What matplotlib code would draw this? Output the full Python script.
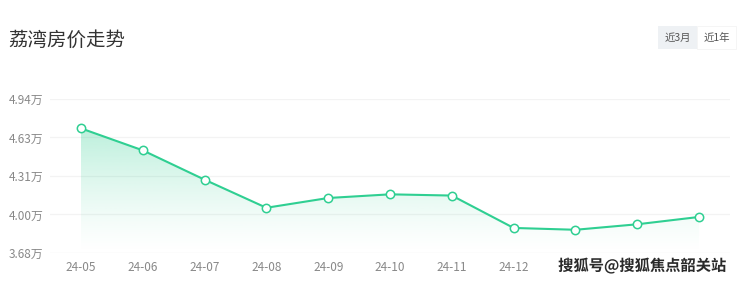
import matplotlib
matplotlib.use("Agg")
import matplotlib.pyplot as plt
import matplotlib.patheffects as pe
from matplotlib.patches import Rectangle, Polygon
import numpy as np

plt.rcParams['font.family'] = ['Noto Sans CJK SC', 'DejaVu Sans']

months = ["24-05", "24-06", "24-07", "24-08", "24-09", "24-10",
          "24-11", "24-12", "25-01", "25-02", "25-03"]
prices = [4.70, 4.52, 4.28, 4.05, 4.13, 4.16, 4.15, 3.885, 3.87, 3.915, 3.975]
ytick_vals = [3.68, 3.995, 4.31, 4.625, 4.94]
ytick_labels = ["3.68万", "4.00万", "4.31万", "4.63万", "4.94万"]
title = "荔湾房价走势"
buttons = ["近3月", "近1年"]
watermark = "搜狐号@搜狐焦点韶关站"
n_hidden = 3  # last x labels covered by the watermark in the reference

W, H = 740, 284
fig = plt.figure(figsize=(W / 100, H / 100), dpi=100)
fig.patch.set_facecolor("white")

x0, x1 = 50, 730
ytop, ybot = 99, 253
ax = fig.add_axes([x0 / W, 1 - ybot / H, (x1 - x0) / W, (ybot - ytop) / H])
ax.set_xlim(-0.5, len(months) - 0.5)
ax.set_ylim(ytick_vals[0], ytick_vals[-1])
for s in ax.spines.values():
    s.set_visible(False)

for v in ytick_vals:
    ax.axhline(v, color="#ececec" if v == ytick_vals[0] else "#f3f3f3", lw=0.9, zorder=0)

ax.set_yticks(ytick_vals)
ax.set_yticklabels(ytick_labels)
ax.set_xticks(range(len(months)))
ax.set_xticklabels(months[:len(months) - n_hidden] + [""] * n_hidden)
ax.tick_params(axis="both", length=0, labelsize=8.5, colors="#888888")
ax.tick_params(axis="y", pad=5)
ax.tick_params(axis="x", pad=6)

xs = np.arange(len(prices))
green = "#2fcf92"

# gradient fill under line
ymax = max(prices)
base = ytick_vals[0]
grad = np.linspace(0, 1, 256).reshape(-1, 1)
rgba = np.zeros((256, 1, 4))
rgba[..., 0] = 0x2f / 255
rgba[..., 1] = 0xcf / 255
rgba[..., 2] = 0x92 / 255
rgba[..., 3] = 0.32 * grad ** 1.3
im = ax.imshow(rgba, extent=[xs[0], xs[-1], base, ymax], origin="lower",
               aspect="auto", zorder=1, interpolation="bilinear")
verts = [(xs[0], base)] + list(zip(xs, prices)) + [(xs[-1], base)]
poly = Polygon(verts, closed=True, transform=ax.transData, facecolor="none", edgecolor="none")
ax.add_patch(poly)
im.set_clip_path(poly)

ax.plot(xs, prices, color=green, lw=1.5, zorder=3, clip_on=False)
ax.plot(xs, prices, "o", ms=6, mfc="white", mec=green, mew=1.1, zorder=4, clip_on=False)

# title
fig.text(8 / W, 1 - 40 / H, title, fontsize=14, color="#333333", va="center", ha="left")

# buttons
bx = [658, 697]
bw = 39
for i, (lab, b) in enumerate(zip(buttons, bx)):
    fc = "#eef1f4" if i == 0 else "white"
    fig.patches.append(Rectangle((b / W, 1 - 49 / H), bw / W, 23 / H,
                                 transform=fig.transFigure, facecolor=fc,
                                 edgecolor="#f4f4f4" if i else "none", lw=0.6))
    fig.text((b + bw / 2) / W, 1 - 37.5 / H, lab, fontsize=7.5, color="#555555",
             ha="center", va="center")

# watermark
fig.text(726 / W, 1 - 266 / H, watermark, fontsize=11, color="#2a2a2a",
         ha="right", va="center", fontweight="bold",
         path_effects=[pe.withStroke(linewidth=2.5, foreground="white")])

fig.savefig("out.png", dpi=100, facecolor="white")
